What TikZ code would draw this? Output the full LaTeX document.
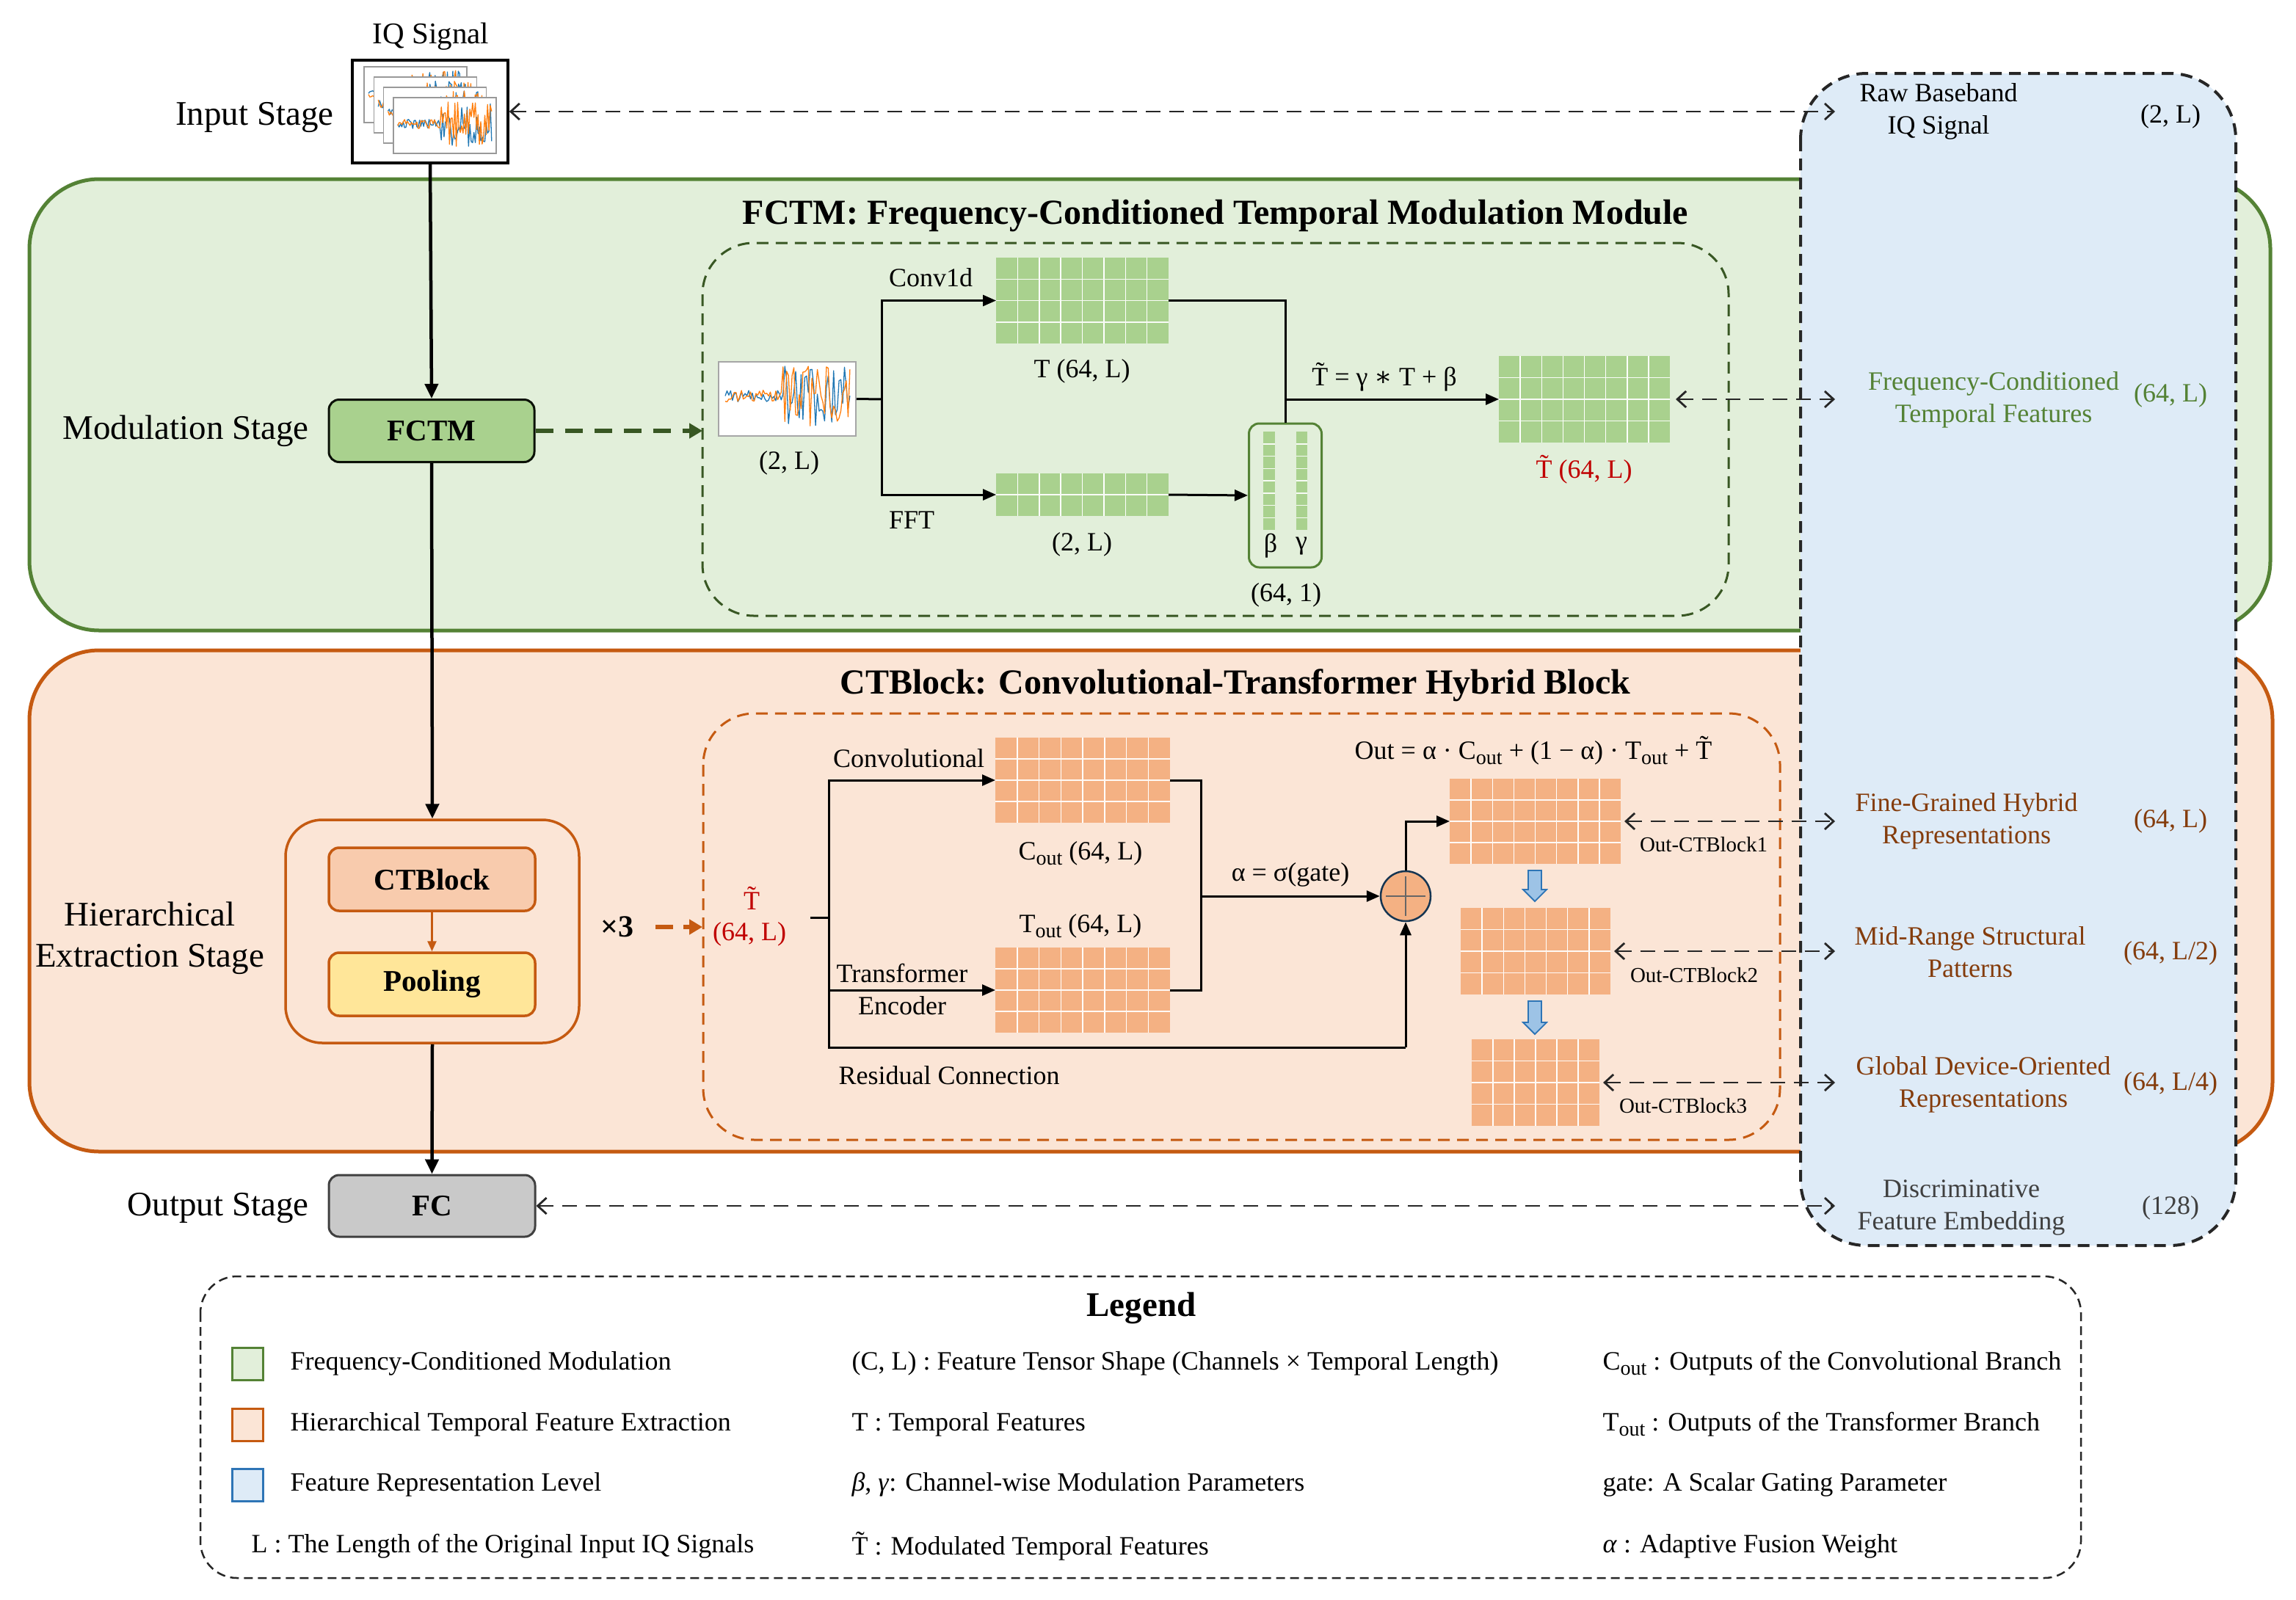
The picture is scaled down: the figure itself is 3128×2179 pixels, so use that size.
\documentclass[tikz,border=0pt]{standalone}
\usepackage{fontspec}
\setmainfont{Liberation Serif}
\newfontfamily\dvs{DejaVu Serif}
\usepackage{graphicx}
\usetikzlibrary{arrows.meta,calc}

\definecolor{gfill}{HTML}{E2EFDA}
\definecolor{gline}{HTML}{548235}
\definecolor{gdark}{HTML}{385723}
\definecolor{gcell}{HTML}{A9D18E}
\definecolor{ofill}{HTML}{FBE5D6}
\definecolor{oline}{HTML}{C55A11}
\definecolor{ocell}{HTML}{F4B183}
\definecolor{bfill}{HTML}{DEEBF7}
\definecolor{bline}{HTML}{2E75B6}
\definecolor{barrow}{HTML}{9DC3E6}
\definecolor{redt}{HTML}{C00000}
\definecolor{brn}{HTML}{843C0C}
\definecolor{ctfill}{HTML}{F8CBAD}
\definecolor{poolfill}{HTML}{FFE699}
\definecolor{fcfill}{HTML}{C9C9C9}
\definecolor{sigb}{HTML}{1F77B4}
\definecolor{sigo}{HTML}{FF7F0E}

\newcommand\sub[1]{\raisebox{-0.42ex}{\scalebox{0.78}{#1}}}
\newcommand\Tt{\~{T}}

% grid of cells: name, x1, y1, x2, y2, cols, rows, colour
\newcommand\fgrid[8]{%
  \node[inner sep=0pt, outer sep=0pt, fill=#8, minimum width={#4-#2}, minimum height={#5-#3}, anchor=north west] (#1) at (#2,#3) {};
  \foreach \k in {1,...,#6}{\ifnum\k<#6 \draw[white, line width=1.5pt] ({#2+(#4-#2)*\k/#6},#3) -- ({#2+(#4-#2)*\k/#6},#5);\fi}
  \foreach \k in {1,...,#7}{\ifnum\k<#7 \draw[white!92!#8, line width=1.5pt] (#2,{#3+(#5-#3)*\k/#7}) -- (#4,{#3+(#5-#3)*\k/#7});\fi}
}

% noisy IQ signal: x0, y0, w, h, seed1, seed2
\newcommand\sigplot[6]{%
  \pgfmathsetseed{#5}
  \draw[sigb, line width=1.3pt, line join=round] plot[domain=0:1, samples=70, variable=\t]
    ({#1+#3*\t},{#2+#4*(0.45+0.5*((\t<0.45)*0.2+(\t>=0.45)*1)*rand)});
  \pgfmathsetseed{#6}
  \draw[sigo, line width=1.3pt, line join=round] plot[domain=0:1, samples=70, variable=\t]
    ({#1+#3*\t},{#2+#4*(0.45+0.5*((\t<0.45)*0.2+(\t>=0.45)*1)*rand)});
}

\begin{document}
\begin{tikzpicture}[x=1pt,y=-1pt,
  stage/.style={font=\fontsize{47}{56}\selectfont},
  lbl/.style={font=\fontsize{36}{44}\selectfont, align=center},
  smalll/.style={font=\fontsize{29}{35}\selectfont},
  ttl/.style={font=\bfseries\fontsize{48}{58}\selectfont},
  blk/.style={rounded corners=14pt, minimum width=281pt, minimum height=86pt, line width=3pt, font=\bfseries\fontsize{41}{49}\selectfont},
  arr/.style={line width=4.5pt, -{Triangle[length=20pt,width=18pt]}},
  inarr/.style={line width=3pt, -{Triangle[length=18pt,width=15pt]}},
  conn/.style={line width=3pt},
  dblarr/.style={line width=2.8pt, black!85, dash pattern=on 20pt off 12pt, {Straight Barb[length=12pt,width=22pt]}-{Straight Barb[length=12pt,width=22pt]}},
  legtxt/.style={font=\fontsize{36}{44}\selectfont, anchor=west},
  legsq/.style={minimum width=42pt, minimum height=44pt, line width=3pt, inner sep=0pt}
]
\useasboundingbox (0,0) rectangle (3128,2179);

% ---------- panels ----------
\draw[gline, line width=5pt, fill=gfill, rounded corners=95pt] (40,244) rectangle (3093,859);
\draw[oline, line width=5pt, fill=ofill, rounded corners=95pt] (40,886) rectangle (3096,1569);
\draw[black!85, line width=4pt, dash pattern=on 16pt off 10pt, fill=bfill, rounded corners=90pt] (2453,100) rectangle (3046,1697);

% ---------- input stage ----------
\node[font=\fontsize{41}{49}\selectfont] (iqt) at (587,50) {IQ Signal};
\node[draw, line width=3.5pt, fill=white, minimum width=212pt, minimum height=140pt, inner sep=0pt] (iq) at (586,152) {};
\foreach \k in {0,...,3}{
  \pgfmathsetmacro\fx{496+13.3*\k}
  \pgfmathsetmacro\fy{91+14*\k}
  \pgfmathtruncatemacro\sa{11+3*\k}
  \pgfmathtruncatemacro\sb{41+5*\k}
  \draw[black!40, line width=1.5pt, fill=white] (\fx,\fy) rectangle ++(140,76);
  \sigplot{\fx+6}{\fy+8}{128}{62}{\sa}{\sb}
}
\node[stage, anchor=east] (ins) at (458,160) {Input Stage};

% ---------- modulation stage ----------
\node[stage] (mods) at (253,587) {Modulation Stage};
\node[blk, fill=gcell, draw=black!80!gdark, minimum width=280pt, minimum height=85pt] (fctm) at (588,587) {FCTM};
\node[ttl] (t1) at (1656,294) {FCTM: Frequency-Conditioned Temporal Modulation Module};
\draw[gdark, line width=3pt, dash pattern=on 16pt off 10pt, rounded corners=70pt] (957,331) rectangle (2355,839);

\node[draw=black!35, line width=1.5pt, fill=white, minimum width=187pt, minimum height=101pt, inner sep=0pt] (sig) at (1072.5,543.5) {};
\sigplot{988}{503}{170}{82}{5}{29}
\node[lbl] (s2l) at (1075,631) {(2, L)};

\fgrid{gT}{1357}{351}{1592}{468}{8}{4}{gcell}
\fgrid{gF}{1357}{645}{1592}{703}{8}{2}{gcell}
\fgrid{gO}{2042}{485}{2275}{603}{8}{4}{gcell}
\node[draw=gline, line width=3pt, fill=gfill, rounded corners=14pt, minimum width=99pt, minimum height=196pt, inner sep=0pt] (bg) at (1751,675) {};
\fgrid{bs}{1721}{588}{1737}{722}{1}{8}{gcell}
\fgrid{gs}{1766}{588}{1781}{722}{1}{8}{gcell}
\node[lbl] (beta) at (1731,744) {β};
\node[lbl] (gamma) at (1773,744) {γ};

\node[lbl] (conv) at (1268,378) {Conv1d};
\node[lbl] (fft) at (1242,709) {FFT};
\node[lbl] (tl) at (1474,506) {T (64, L)};
\node[lbl] (fl) at (1474,742) {(2, L)};
\node[lbl] (bgl) at (1752,811) {(64, 1)};
\node[lbl] (form1) at (1886,514) {\Tt{} = γ {\dvs ∗} T + β};
\node[lbl, text=redt] (ttl1) at (2158,640) {\Tt{} (64, L)};

\coordinate (sp) at (1201,544);
\coordinate (mj) at (1751,544);
\draw[conn] (sig.east) -- (sp);
\draw[inarr] (sp) |- (gT.west);
\draw[inarr] (sp) |- (gF.west);
\draw[inarr] (gF.east) -- (bg.west);
\draw[conn] (gT.east) -| (bg.north);
\draw[inarr] (mj) -- (gO.west);

% ---------- hierarchical stage ----------
\node[stage, align=center] (hes) at (204,1278) {Hierarchical\\Extraction Stage};
\node[draw=oline, line width=3.5pt, rounded corners=50pt, minimum width=400pt, minimum height=304pt, fill=ofill, inner sep=0pt] (cont) at (589,1269) {};
\node[blk, fill=ctfill, draw=oline, line width=3.5pt] (ctb) at (588.5,1198) {CTBlock};
\node[blk, fill=poolfill, draw=oline, line width=3.5pt] (pool) at (588.5,1341) {Pooling};
\draw[oline, line width=2.5pt, -{Triangle[length=14pt,width=12pt]}] (ctb.south) -- (pool.north);
\node[font=\bfseries\fontsize{42}{50}\selectfont] (x3) at (841,1263) {×3};

\node[ttl] (t2) at (1683,934) {CTBlock: Convolutional-Transformer Hybrid Block};
\draw[oline, line width=3pt, dash pattern=on 16pt off 10pt, rounded corners=70pt] (958,972) rectangle (2425,1553);

\node[lbl, text=redt] (ttil) at (1024,1224) {\Tt};
\node[lbl, text=redt] (ttil2) at (1021,1273) {(64, L)};

\fgrid{gC}{1356}{1005}{1594}{1121}{8}{4}{ocell}
\fgrid{gTo}{1356}{1291}{1594}{1407}{8}{4}{ocell}
\fgrid{o1}{1975}{1061}{2208}{1177}{8}{4}{ocell}
\fgrid{o2}{1990}{1237}{2194}{1355}{7}{4}{ocell}
\fgrid{o3}{2005}{1416}{2179}{1534}{6}{4}{ocell}

\node[lbl] (convl) at (1238,1033) {Convolutional};
\node[lbl] (trl) at (1229,1348) {Transformer\\Encoder};
\node[lbl] (coutl) at (1472,1163) {C\sub{out} (64, L)};
\node[lbl] (toutl) at (1472,1262) {T\sub{out} (64, L)};
\node[lbl] (resl) at (1293,1465) {Residual Connection};
\node[lbl] (alph) at (1758,1192) {α = σ(gate)};
\node[lbl] (form2) at (2089,1023) {Out = α · C\sub{out} + (1 − α) · T\sub{out} + \Tt};
\node[circle, draw=black!55!bline, line width=2.5pt, fill=ocell, minimum size=68pt, inner sep=0pt] (add) at (1915,1221) {};
\draw[black!60, line width=1.5pt] ($(add.center)+(-27,0)$) -- ($(add.center)+(27,0)$);
\draw[black!60, line width=1.5pt] ($(add.center)+(0,-27)$) -- ($(add.center)+(0,27)$);

\node[smalll] (oc1) at (2321,1151) {Out-CTBlock1};
\node[smalll] (oc2) at (2308,1329) {Out-CTBlock2};
\node[smalll] (oc3) at (2293,1507) {Out-CTBlock3};

\coordinate (ct0) at (1104,1250);
\coordinate (ctv) at (1129,1250);
\coordinate (rc) at (1915,1427);
\coordinate (mg) at (1636,1221);
\draw[conn] (ct0) -- (ctv);
\draw[inarr] (ctv) |- (gC.west);
\draw[inarr] (ctv) |- (gTo.west);
\draw[conn] (ctv) |- (rc);
\draw[inarr] (rc) -- (add.south);
\draw[conn] (gC.east) -- ++(42,0) |- (gTo.east);
\draw[inarr] (mg) -- (add.west);
\draw[inarr] (add.north) |- (o1.west);

% blue block arrows
\foreach \ya/\yb in {1186/1228, 1364/1409}{
  \draw[bline, line width=1.8pt, fill=barrow] (2082,\ya) -- (2100,\ya) -- (2100,\yb-16) -- (2107,\yb-16) -- (2091,\yb) -- (2075,\yb-16) -- (2082,\yb-16) -- cycle;
}

% ---------- output stage ----------
\node[stage, anchor=east] (outs) at (424,1646) {Output Stage};
\node[blk, fill=fcfill, draw=black!75, minimum height=84pt] (fc) at (588.5,1643) {FC};

% main arrows
\draw[arr] (iq.south) -- (fctm.north);
\draw[arr] (fctm.south) -- (cont.north);
\draw[arr] (cont.south) -- (fc.north);

\coordinate (fin) at (957,587);
\draw[gdark, line width=6pt, dash pattern=on 24pt off 16pt, -{Triangle[length=18pt,width=20pt]}] (fctm.east) -- (fin);
\coordinate (cin) at (957,1263);
\draw[oline, line width=6pt, dash pattern=on 24pt off 14pt, -{Triangle[length=18pt,width=20pt]}] ([xshift=26pt]x3.east) -- (cin);

% ---------- feature representation panel ----------
\node[lbl] (rb) at (2641,152) {Raw Baseband\\IQ Signal};
\node[lbl] (rbs) at (2957,159) {(2, L)};
\node[lbl, text=gline] (fct) at (2716,545) {Frequency-Conditioned\\Temporal Features};
\node[lbl, text=gline] (fcs) at (2957,539) {(64, L)};
\node[lbl, text=brn] (fg) at (2679,1119) {Fine-Grained Hybrid\\Representations};
\node[lbl, text=brn] (fgs) at (2957,1119) {(64, L)};
\node[lbl, text=brn] (mr) at (2684,1297) {Mid-Range Structural\\Patterns};
\node[lbl, text=brn] (mrs) at (2957,1299) {(64, L/2)};
\node[lbl, text=brn] (gd) at (2702,1478) {Global Device-Oriented\\Representations};
\node[lbl, text=brn] (gds) at (2957,1477) {(64, L/4)};
\node[lbl, text=black!75] (de) at (2672,1645) {Discriminative\\Feature Embedding};
\node[lbl, text=black!75] (des) at (2957,1646) {(128)};

\coordinate (p0) at (2500,152);
\coordinate (p1) at (2500,544);
\coordinate (p2) at (2500,1119);
\coordinate (p3) at (2500,1296);
\coordinate (p4) at (2500,1475);
\coordinate (p5) at (2500,1643);
\draw[dblarr] (iq.east) -- (p0);
\draw[dblarr] ([xshift=8pt]gO.east) -- (p1);
\draw[dblarr] ([xshift=5pt]o1.east) -- (p2);
\draw[dblarr] ([xshift=5pt]o2.east) -- (p3);
\draw[dblarr] ([xshift=5pt]o3.east) -- (p4);
\draw[dblarr] (fc.east) -- (p5);

% ---------- legend ----------
\draw[black!85, line width=2.5pt, dash pattern=on 12pt off 7pt, rounded corners=50pt] (273,1739) rectangle (2835,2150);
\node[font=\bfseries\fontsize{47}{56}\selectfont] (legt) at (1555,1782) {Legend};
\node[legsq, fill=gfill, draw=gline] (sq1) at (337,1858) {};
\node[legsq, fill=ofill, draw=oline] (sq2) at (337,1941) {};
\node[legsq, fill=bfill, draw=bline] (sq3) at (337,2023) {};
\node[legtxt] (l1) at (392,1858) {Frequency-Conditioned Modulation};
\node[legtxt] (l2) at (392,1941) {Hierarchical Temporal Feature Extraction};
\node[legtxt] (l3) at (392,2023) {Feature Representation Level};
\node[legtxt] (l4) at (339,2107) {L : The Length of the Original Input IQ Signals};
\node[legtxt] (m1) at (1157,1858) {(C, L) : Feature Tensor Shape (Channels × Temporal Length)};
\node[legtxt] (m2) at (1157,1941) {T : Temporal Features};
\node[legtxt] (m3) at (1157,2023) {\textit{β}, \textit{γ}: Channel-wise Modulation Parameters};
\node[legtxt] (m4) at (1157,2107) {\Tt{} : Modulated Temporal Features};
\node[legtxt] (r1) at (2180,1858) {C\sub{out} : Outputs of the Convolutional Branch};
\node[legtxt] (r2) at (2180,1941) {T\sub{out} : Outputs of the Transformer Branch};
\node[legtxt] (r3) at (2180,2023) {gate: A Scalar Gating Parameter};
\node[legtxt] (r4) at (2180,2107) {\textit{α} : Adaptive Fusion Weight};
\end{tikzpicture}
\end{document}
